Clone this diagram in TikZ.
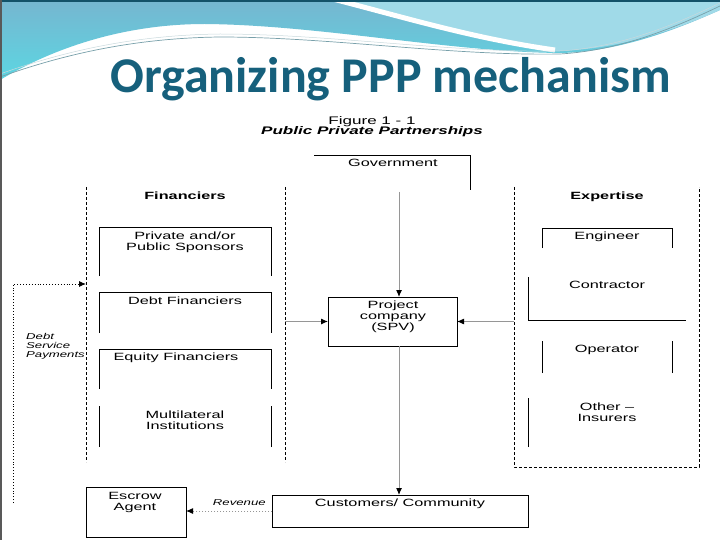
\documentclass[tikz,border=0pt]{standalone}
\usepackage{fontspec}
\usetikzlibrary{arrows.meta,calc}
\newfontfamily\figfont[FakeStretch=1.55]{Liberation Sans}
\newfontfamily\titlefont{Carlito}
\definecolor{titleblue}{RGB}{22,96,124}
\definecolor{hdrtop}{RGB}{118,182,208}
\definecolor{hdrbot}{RGB}{92,214,226}
\definecolor{hdrlight}{RGB}{160,218,232}
\definecolor{wavecol}{RGB}{120,160,170}
\definecolor{arrgray}{RGB}{150,150,150}
\begin{document}
\begin{tikzpicture}[x=1pt,y=-1pt,
  txt/.style={font=\figfont\fontsize{10.5}{11}\selectfont, align=center, inner sep=0pt},
  hdr/.style={font=\figfont\bfseries\fontsize{10.5}{11}\selectfont, align=center, inner sep=0pt},
  itxt/.style={font=\figfont\itshape\fontsize{8.5}{9}\selectfont, align=left, inner sep=0pt},
  boxframe/.style={inner sep=0pt, outer sep=0pt},
  boxline/.style={draw=black, line width=0.9pt},
  grpline/.style={draw=black, line width=0.8pt, dash pattern=on 3pt off 2pt},
  garrow/.style={draw=arrgray, line width=1pt, -{Latex[length=7pt,width=6pt,color=black]}},
  dotarrow/.style={draw=black, line width=0.9pt, dotted, -{Latex[length=7pt,width=6pt,color=black]}},
  gdotarrow/.style={draw=arrgray, line width=1pt, dotted, -{Latex[length=7pt,width=6pt,color=black]}}]
\useasboundingbox (0,0) rectangle (720,540);
\fill[white] (0,0) rectangle (720,540);
% ---------- header ----------
\shade[top color=hdrtop, bottom color=hdrbot]
  (0,0) -- (720,0) -- (720,10) .. controls (680,28) and (620,52) .. (560,53)
  .. controls (450,52) and (320,25) .. (205,24) .. controls (120,24) and (50,50) .. (0,80) -- cycle;
\fill[hdrlight] (335,0) -- (720,0) -- (720,10) .. controls (680,28) and (620,50) .. (555,51)
  .. controls (480,40) and (400,15) .. (335,0) -- cycle;
\draw[white, line width=5pt] (325,-3) .. controls (400,16) and (470,38) .. (555,50);
\draw[wavecol, line width=0.7pt] (0,77) .. controls (70,52) and (140,38) .. (220,37)
  .. controls (330,37) and (450,56) .. (560,54) .. controls (625,50) and (680,25) .. (720,6);
\draw[white!60!wavecol, line width=0.5pt] (0,74) .. controls (70,49) and (140,35) .. (220,34)
  .. controls (330,34) and (450,53) .. (560,51) .. controls (625,47) and (680,22) .. (720,3);
\fill[titleblue!85!black] (0,0) rectangle (720,2);
\draw[gray!70!black, line width=1.5pt] (0.75,0) -- (0.75,540);
\node[font=\titlefont\bfseries\fontsize{50}{54}\selectfont, text=titleblue, anchor=base west, inner sep=0pt] (title) at (110,93) {Organizing PPP mechanism};
% ---------- figure caption ----------
\node[txt, font=\figfont\fontsize{11}{12}\selectfont] (fig) at (372,122) {Figure 1 - 1};
\node[txt, font=\figfont\bfseries\itshape\fontsize{11}{12}\selectfont] (figsub) at (372,132) {Public Private Partnerships};
% ---------- group frames ----------
\node[boxframe, minimum width=199pt, minimum height=275pt] (fin) at (185.5,324.5) {};
\draw[grpline] (fin.north west) -- (fin.south west);
\draw[grpline] (fin.north east) -- (fin.south east);
\node[hdr] (finlbl) at (185,196) {Financiers};
\node[boxframe, minimum width=185pt, minimum height=280pt] (exp) at (606.5,327) {};
\draw[grpline] (exp.north west) -- (exp.south west) -- (exp.south east) -- (exp.north east);
\node[hdr] (explbl) at (607,197) {Expertise};
% ---------- government ----------
\node[boxframe, minimum width=156pt, minimum height=35pt] (gov) at (392,172.5) {};
\draw[boxline] (gov.north west) -- (gov.north east) -- (gov.south east);
\node[txt] (govlbl) at (393,163) {Government};
% ---------- financiers boxes ----------
\node[boxframe, minimum width=172pt, minimum height=49pt] (priv) at (185,251.5) {};
\draw[boxline] (priv.south west) -- (priv.north west) -- (priv.north east) -- (priv.south east);
\node[txt] (privlbl) at (185,242) {Private and/or\\Public Sponsors};
\node[boxframe, minimum width=172pt, minimum height=41pt] (debt) at (185,312.5) {};
\draw[boxline] (debt.south west) -- (debt.north west) -- (debt.north east) -- (debt.south east);
\node[txt] (debtlbl) at (185,301) {Debt Financiers};
\node[boxframe, minimum width=172pt, minimum height=40pt] (eq) at (185,369) {};
\draw[boxline] (eq.south west) -- (eq.north west) -- (eq.north east) -- (eq.south east);
\node[txt] (eqlbl) at (176,358) {Equity Financiers};
\node[boxframe, minimum width=172pt, minimum height=41pt] (multi) at (185,426.5) {};
\draw[boxline] (multi.south west) -- (multi.north west);
\draw[boxline] (multi.south east) -- (multi.north east);
\node[txt] (multilbl) at (185,420) {Multilateral\\Institutions};
% ---------- expertise boxes ----------
\node[boxframe, minimum width=130pt, minimum height=20pt] (eng) at (607,238) {};
\draw[boxline] (eng.south west) -- (eng.north west) -- (eng.north east) -- (eng.south east);
\node[txt] (englbl) at (607,237) {Engineer};
\node[boxframe, minimum width=158pt, minimum height=43pt] (con) at (607,298.5) {};
\draw[boxline] (con.north west) -- (con.south west) -- (con.south east);
\node[txt] (conlbl) at (607,285) {Contractor};
\node[boxframe, minimum width=130pt, minimum height=32pt] (op) at (607,357) {};
\draw[boxline] (op.south west) -- (op.north west);
\draw[boxline] (op.south east) -- (op.north east);
\node[txt] (oplbl) at (607,350) {Operator};
\node[boxframe, minimum width=158pt, minimum height=49pt] (oth) at (607,422.5) {};
\draw[boxline] (oth.south west) -- (oth.north west);
\node[txt] (othlbl) at (607,412) {Other –\\Insurers};
% ---------- project company ----------
\node[boxframe, boxline, minimum width=129pt, minimum height=49pt] (spv) at (392.5,321.5) {};
\node[txt] (spvlbl) at (393,317) {Project\\company\\(SPV)};
% ---------- customers and escrow ----------
\node[boxframe, boxline, minimum width=256pt, minimum height=32pt] (cust) at (400,511) {};
\node[txt] (custlbl) at (400,504) {Customers/ Community};
\node[boxframe, boxline, minimum width=100pt, minimum height=50pt] (esc) at (136,512) {};
\node[txt] (esclbl) at (135,502) {Escrow\\Agent};
% ---------- connectors ----------
\draw[garrow] ([xshift=7pt,yshift=-2pt]gov.south) -- ([xshift=7pt]gov.south |- spv.north);
\draw[garrow] ([xshift=6.5pt]spv.south) -- ([xshift=6.5pt]spv.south |- cust.north);
\draw[garrow] (fin.east |- spv.west) -- (spv.west);
\draw[garrow] (exp.west |- spv.east) -- (spv.east);
\draw[gdotarrow] (cust.west) -- (cust.west -| esc.east)
  node[itxt, pos=0.38, above=5pt] (rev) {Revenue};
\coordinate (dsStart) at (13,503);
\coordinate (dsCorner) at (13,284);
\draw[dotarrow] (dsStart) -- (dsCorner) -- (dsCorner -| fin.west);
\node[itxt, anchor=west] (dslbl) at (26,346) {Debt\\Service\\Payments};
\end{tikzpicture}
\end{document}
